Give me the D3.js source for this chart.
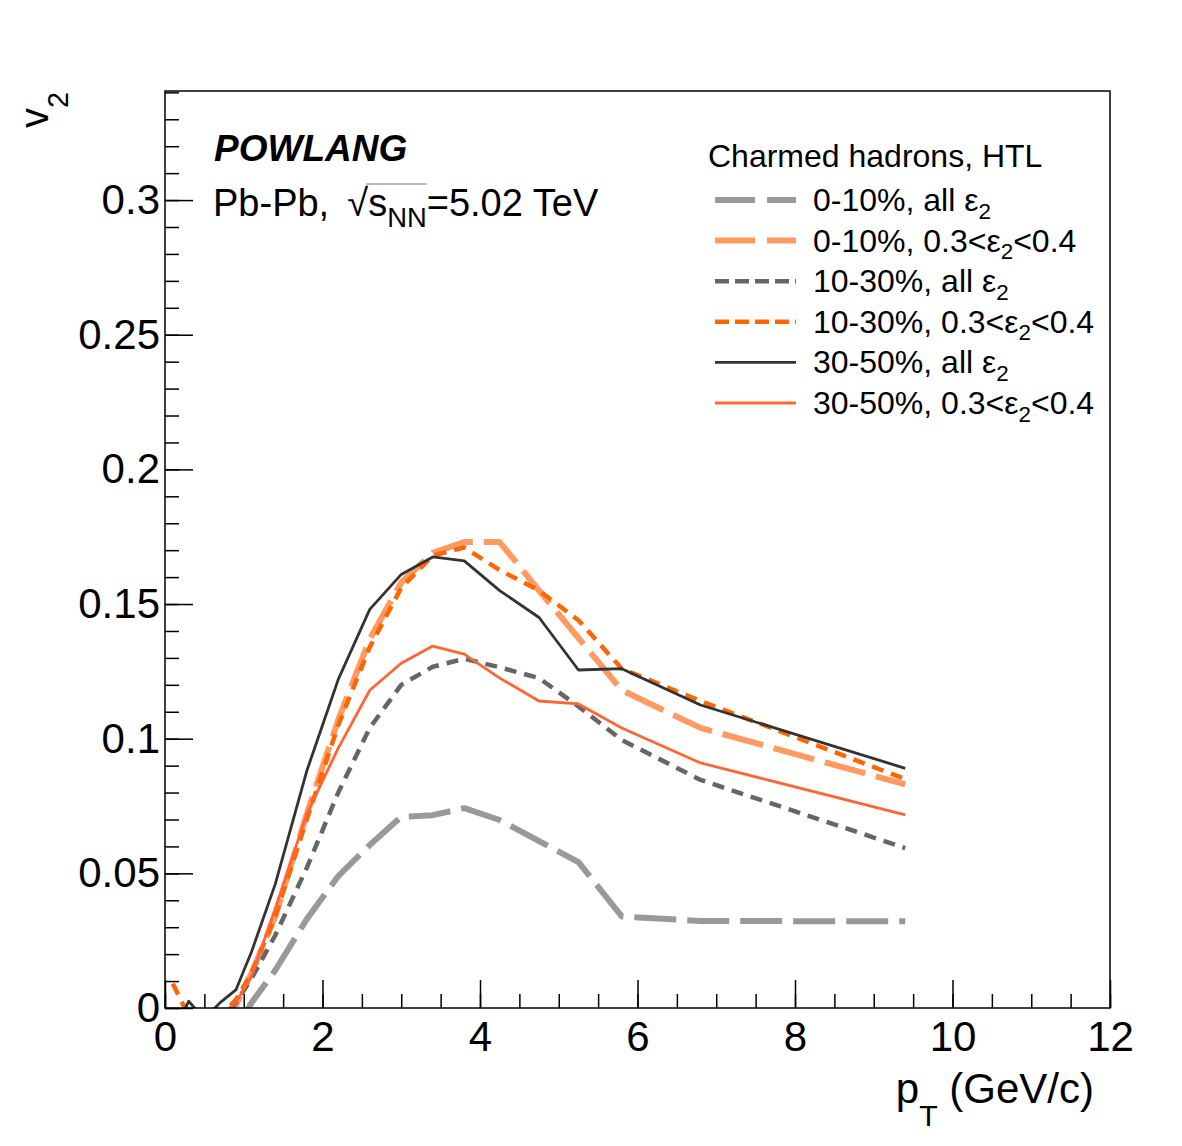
<!DOCTYPE html>
<html>
<head>
<meta charset="utf-8">
<script src="https://cdn.jsdelivr.net/npm/d3@7"></script>
<style>
  body { margin: 0; background: #fff; }
  text { font-family: "Liberation Sans", Arial, Helvetica, sans-serif; fill: #000; }
</style>
</head>
<body>
<div id="chart"></div>
<script>
// pT bin centres (GeV/c)
const pt = [0.1, 0.3, 0.5, 0.7, 0.9, 1.1, 1.4, 1.8, 2.2, 2.6, 3.0, 3.4, 3.8, 4.25, 4.75, 5.25, 5.8, 6.8, 9.4];

// v2 values
const v2_0_10_all   = [-0.01, -0.01, -0.02, -0.015, -0.008, 0.002, 0.014, 0.033, 0.049, 0.0605, 0.071, 0.0716, 0.0742, 0.0698, 0.062, 0.0542, 0.034, 0.0323, 0.0322];
const v2_0_10_sel   = [-0.01, -0.005, -0.01, -0.005, 0.001, 0.013, 0.034, 0.072, 0.107, 0.137, 0.158, 0.169, 0.173, 0.173, 0.155, 0.1374, 0.118, 0.104, 0.083];
const v2_10_30_all  = [-0.01, 0.0005, -0.01, -0.005, 0.002, 0.011, 0.027, 0.052, 0.080, 0.104, 0.120, 0.1267, 0.1297, 0.1265, 0.1225, 0.112, 0.0995, 0.0847, 0.0594];
const v2_10_30_sel  = [0.009, -0.003, -0.01, -0.003, 0.003, 0.013, 0.034, 0.070, 0.105, 0.134, 0.156, 0.168, 0.171, 0.1626, 0.155, 0.144, 0.126, 0.114, 0.085];
const v2_30_50_all  = [-0.01, 0.0025, -0.004, 0.002, 0.0067, 0.021, 0.046, 0.088, 0.122, 0.148, 0.161, 0.1675, 0.166, 0.155, 0.145, 0.1255, 0.126, 0.1125, 0.089];
const v2_30_50_sel  = [-0.01, -0.005, -0.01, -0.003, 0.002, 0.012, 0.037, 0.072, 0.0965, 0.118, 0.128, 0.1344, 0.1314, 0.1225, 0.114, 0.1129, 0.104, 0.091, 0.0717];

const legendLabels = ["0-10%, all ε_{2}", "0-10%, 0.3<ε_{2}<0.4", "10-30%, all ε_{2}",
                      "10-30%, 0.3<ε_{2}<0.4", "30-50%, all ε_{2}", "30-50%, 0.3<ε_{2}<0.4"];

const xTicks = [0, 2, 4, 6, 8, 10, 12];
const xTickLabels = ["0", "2", "4", "6", "8", "10", "12"];
const yTicks = [0, 0.05, 0.1, 0.15, 0.2, 0.25, 0.3];
const yTickLabels = ["0", "0.05", "0.1", "0.15", "0.2", "0.25", "0.3"];

// line styles
const series = [
  {v: v2_0_10_all,  color: "#999999", w: 6,   dash: "42,11"},
  {v: v2_0_10_sel,  color: "#ff9a62", w: 6,   dash: "42,11"},
  {v: v2_10_30_all, color: "#666666", w: 4.5, dash: "12,8"},
  {v: v2_10_30_sel, color: "#ff6600", w: 4.5, dash: "12,8"},
  {v: v2_30_50_all, color: "#333333", w: 2.8, dash: null},
  {v: v2_30_50_sel, color: "#ff6633", w: 2.8, dash: null}
];
series.forEach((s, i) => s.label = legendLabels[i]);

const W = 1182, H = 1146;
const margin = {top: 91, right: 72, bottom: 138, left: 165},
    width = W - margin.left - margin.right,
    height = H - margin.top - margin.bottom;

const svg = d3.select("#chart")
    .append("svg")
    .attr("width", W)
    .attr("height", H);

const g = svg.append("g")
    .attr("transform", `translate(${margin.left}, ${margin.top})`);

const x = d3.scaleLinear().domain([0, 12]).range([0, width]);
const y = d3.scaleLinear().domain([0, 0.3405]).range([height, 0]);

// text with _{..} subscripts
function richText(sel, str, fs, drop, scale = 0.72) {
  const parts = str.split(/(_\{[^}]*\})/).filter(s => s.length);
  let sub = false;
  parts.forEach(p => {
    if (p.startsWith("_{")) {
      sel.append("tspan").attr("dy", fs * drop).attr("font-size", fs * scale).text(p.slice(2, -1));
      sub = true;
    } else {
      sel.append("tspan").attr("dy", sub ? -fs * drop : 0).text(p);
      sub = false;
    }
  });
  return sel;
}

// minor ticks
g.append("g")
    .attr("transform", `translate(0, ${height})`)
    .call(d3.axisBottom(x).tickValues(d3.range(0, 12.01, 0.5)).tickSize(-14).tickSizeOuter(0).tickFormat(""))
    .call(a => a.select(".domain").remove());
g.append("g")
    .call(d3.axisLeft(y).tickValues(d3.range(0, 0.341, 0.01)).tickSize(-14).tickSizeOuter(0).tickFormat(""))
    .call(a => a.select(".domain").remove());

// major ticks + labels
g.append("g")
    .attr("transform", `translate(0, ${height})`)
    .call(d3.axisBottom(x).tickValues(xTicks).tickSize(-28).tickSizeOuter(0)
      .tickPadding(13).tickFormat((d, i) => xTickLabels[i]))
    .call(a => a.select(".domain").remove())
    .selectAll("text")
    .attr("font-size", 42)
    .attr("font-family", "Liberation Sans, Arial, sans-serif");
g.append("g")
    .call(d3.axisLeft(y).tickValues(yTicks).tickSize(-28).tickSizeOuter(0)
      .tickPadding(5).tickFormat((d, i) => yTickLabels[i]))
    .call(a => a.select(".domain").remove())
    .selectAll("text")
    .attr("font-size", 42)
    .attr("font-family", "Liberation Sans, Arial, sans-serif");

g.selectAll(".tick line").attr("stroke", "#000").attr("stroke-width", 1.5);

// curves
svg.append("defs").append("clipPath").attr("id", "plotclip")
    .append("rect").attr("width", width).attr("height", height);

const line = d3.line();
g.append("g").attr("clip-path", "url(#plotclip)")
    .selectAll("path")
    .data(series)
    .join("path")
    .attr("d", s => line(pt.map((p, i) => [x(p), y(s.v[i])])))
    .attr("fill", "none")
    .attr("stroke", s => s.color)
    .attr("stroke-width", s => s.w)
    .attr("stroke-dasharray", s => s.dash)
    .attr("stroke-linejoin", "round");

// frame
g.append("rect")
    .attr("width", width).attr("height", height)
    .attr("fill", "none").attr("stroke", "#000").attr("stroke-width", 1.5);

// axis titles
richText(svg.append("text").attr("x", 1094).attr("y", 1103)
    .attr("text-anchor", "end").attr("font-size", 42), "p_{T} (GeV/c)", 42, 0.55);
richText(svg.append("text").attr("transform", "translate(48, 92) rotate(-90)")
    .attr("text-anchor", "end").attr("font-size", 40), "v_{2}", 40, 0.5);

// labels
svg.append("text").attr("x", 214).attr("y", 161)
    .attr("font-size", 37).attr("font-weight", "bold").attr("font-style", "italic")
    .text("POWLANG");
const sys = richText(svg.append("text").attr("x", 213).attr("y", 216).attr("font-size", 38),
    "Pb-Pb, \u2009√s_{NN}=5.02 TeV", 38, 0.3);
// overline of the square root
const sn = sys.node();
const eRoot = sn.getExtentOfChar(8), eN = sn.getExtentOfChar(11);
svg.append("line")
    .attr("x1", eRoot.x + eRoot.width - 2).attr("x2", eN.x + eN.width)
    .attr("y1", eRoot.y + 2).attr("y2", eRoot.y + 2)
    .attr("stroke", "#777").attr("stroke-width", 1);

// legend
svg.append("text").attr("x", 708).attr("y", 167).attr("font-size", 32)
    .text("Charmed hadrons, HTL");
const leg = svg.append("g").selectAll("g")
    .data(series)
    .join("g")
    .attr("transform", (s, i) => `translate(715, ${200 + i * 40.6})`);
leg.append("line")
    .attr("x1", 0).attr("x2", 81)
    .attr("stroke", s => s.color)
    .attr("stroke-width", s => s.w)
    .attr("stroke-dasharray", s => s.dash ? (s.w > 5 ? "40,12" : "14,6") : null);
leg.append("text")
    .attr("x", 98).attr("y", 11).attr("font-size", 32)
    .each(function(s) { richText(d3.select(this), s.label, 32, 0.24, 0.7); });
</script>
</body>
</html>
